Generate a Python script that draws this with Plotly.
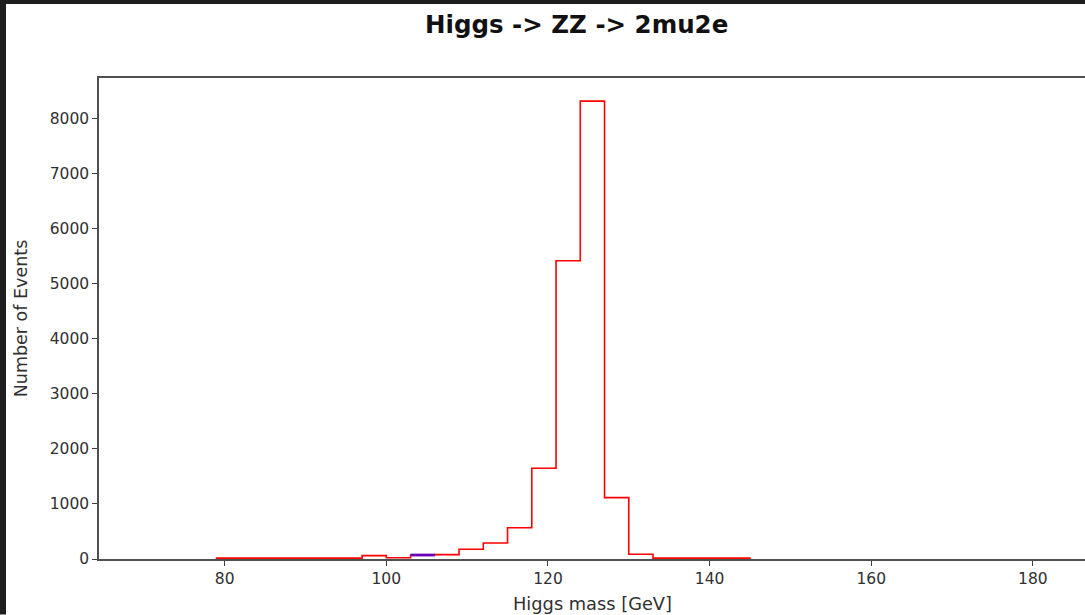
import plotly.graph_objects as go

# Histogram binning: 37 bins of 3 GeV from 70 to 181
bin_edges = [70 + 3 * i for i in range(38)]
# Counts per bin
counts = [0, 0, 0, 15, 15, 15, 15, 15, 15, 62, 22, 72, 80, 176, 290, 568,
          1650, 5420, 8320, 1115, 85, 15, 15, 15, 15, 0, 0, 0, 0, 0, 0, 0,
          0, 0, 0, 0, 0]
# Purple overlay segment
purple_edges = [103, 106]
purple_counts = [72]

x_ticks = [80, 100, 120, 140, 160, 180]
y_ticks = [0, 1000, 2000, 3000, 4000, 5000, 6000, 7000, 8000]

W, H = 1085, 615
L, R, T, B = 99, 0, 78, 55.5
pw = W - L - R
ph = H - T - B

def px_x(p):
    return (p - L) / pw

def px_y(p):
    return (H - B - p) / ph

FONT = "DejaVu Sans"
TXT = "#303030"

# step outline over the non-empty span (empty bins sit under the axis spine)
nz = [i for i, c in enumerate(counts) if c > 0]
i0, i1 = nz[0], nz[-1]
xs = [bin_edges[i0]] + bin_edges[i0:i1 + 2]
ys = [0] + counts[i0:i1 + 1] + [0]

fig = go.Figure()
fig.add_trace(go.Scatter(x=xs, y=ys, mode="lines", line=dict(color="#ff0000", width=1.6, shape="hv"),
                         showlegend=False, hoverinfo="skip"))
fig.add_trace(go.Scatter(x=purple_edges, y=purple_counts * 2, mode="lines",
                         line=dict(color="#6a00b8", width=2.8), showlegend=False, hoverinfo="skip"))

fig.update_layout(
    width=W, height=H,
    margin=dict(l=L, r=R, t=T, b=B, pad=0),
    paper_bgcolor="white", plot_bgcolor="white",
    font=dict(family=FONT, color=TXT),
    xaxis=dict(range=[64.45, 186.45], tickvals=x_ticks, ticks="outside", ticklen=5, tickwidth=1,
               tickcolor="#404040", showline=True, linecolor="#505050", linewidth=1.5, mirror=True,
               showgrid=False, zeroline=False, tickfont=dict(size=15.5, family=FONT, color=TXT)),
    yaxis=dict(range=[0, 8740], tickvals=y_ticks, ticks="outside", ticklen=5, tickwidth=1,
               tickcolor="#404040", showline=True, linecolor="#505050", linewidth=1.5, mirror=False,
               showgrid=False, zeroline=False, tickfont=dict(size=15.5, family=FONT, color=TXT)),
    shapes=[
        dict(type="rect", xref="paper", yref="paper", x0=px_x(0), x1=px_x(6), y0=px_y(H), y1=px_y(0),
             fillcolor="#1e1e1e", line=dict(width=0), layer="above"),
        dict(type="rect", xref="paper", yref="paper", x0=px_x(0), x1=px_x(W), y0=px_y(4), y1=px_y(0),
             fillcolor="#1e1e1e", line=dict(width=0), layer="above"),
    ],
    annotations=[
        dict(text="<b>Higgs -> ZZ -> 2mu2e</b>", xref="paper", yref="paper", x=px_x(576.5), y=px_y(24.5),
             xanchor="center", yanchor="middle", showarrow=False,
             font=dict(size=24.5, family=FONT, color="#111111")),
        dict(text="Higgs mass [GeV]", xref="paper", yref="paper", x=px_x(592.5), y=px_y(604),
             xanchor="center", yanchor="middle", showarrow=False,
             font=dict(size=17.8, family=FONT, color=TXT)),
        dict(text="Number of Events", xref="paper", yref="paper", x=px_x(21), y=px_y(318.5),
             xanchor="center", yanchor="middle", showarrow=False, textangle=-90,
             font=dict(size=17.5, family=FONT, color=TXT)),
    ],
)

fig.write_html("out.html")
